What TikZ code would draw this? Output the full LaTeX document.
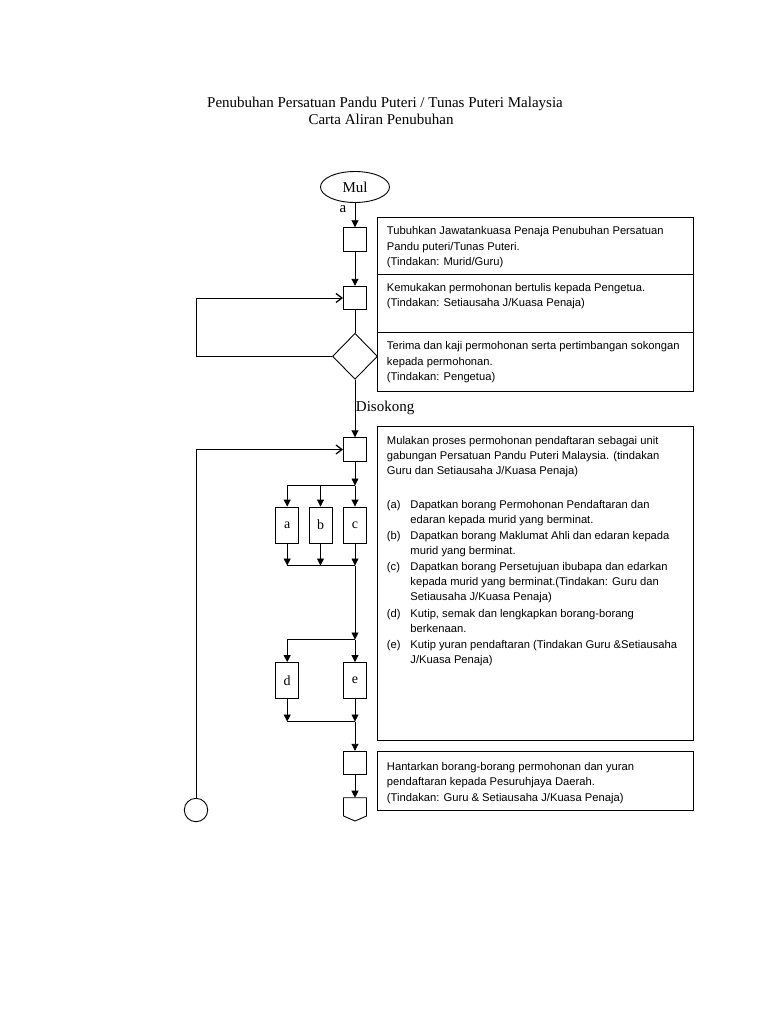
\documentclass[tikz,border=0pt]{standalone}
\usepackage{fontspec}
\setmainfont{Liberation Serif}
\setsansfont{Liberation Sans}
\usetikzlibrary{shapes.geometric,arrows.meta}
\begin{document}
\begin{tikzpicture}[x=1pt,y=-1pt,
  line width=0.9pt,
  sq/.style={draw, rectangle, inner sep=0pt, minimum width=23pt, minimum height=23.5pt},
  tall/.style={draw, rectangle, inner sep=0pt, minimum width=23pt, minimum height=36pt, font=\fontsize{14}{16}\selectfont},
  tbox/.style={draw, rectangle, inner sep=0pt, anchor=north west, minimum width=316pt},
  txt/.style={anchor=base west, inner sep=0pt, font=\fontsize{11.2}{13}\sffamily},
  serif/.style={inner sep=0pt, font=\fontsize{15}{17}\selectfont},
  arr/.style={-{Triangle[length=7pt,width=7pt]}},
  barb/.style={-{Straight Barb[length=6pt,width=9pt,line width=1.3pt]}},
]
\useasboundingbox (0,0) rectangle (768,1024);
\fill[white] (0,0) rectangle (768,1024);

% title
\node[serif, anchor=base] (title1) at (385,108) {Penubuhan Persatuan Pandu Puteri / Tunas Puteri Malaysia};
\node[serif, anchor=base] (title2) at (381,125) {Carta Aliran Penubuhan};

% text boxes
\node[tbox, minimum height=57pt] (tb1) at (377,217) {};
\node[tbox, minimum height=58pt] (tb2) at (377,274) {};
\node[tbox, minimum height=59pt] (tb3) at (377,332) {};
\node[tbox, minimum height=314.5pt] (tb4) at (377,425.5) {};
\node[tbox, minimum height=59pt] (tb5) at (377,751) {};

\node[txt] (t11) at (386.5,234.5) {Tubuhkan Jawatankuasa Penaja Penubuhan Persatuan};
\node[txt] (t12) at (386.5,250) {Pandu puteri/Tunas Puteri.};
\node[txt] (t13) at (386.5,265.5) {(Tindakan: Murid/Guru)};

\node[txt] (t21) at (386.5,291) {Kemukakan permohonan bertulis kepada Pengetua.};
\node[txt] (t22) at (386.5,306.5) {(Tindakan: Setiausaha J/Kuasa Penaja)};

\node[txt] (t31) at (386.5,349.5) {Terima dan kaji permohonan serta pertimbangan sokongan};
\node[txt] (t32) at (386.5,365) {kepada permohonan.};
\node[txt] (t33) at (386.5,380.5) {(Tindakan: Pengetua)};

\node[txt] (t41) at (386.5,444.5) {Mulakan proses permohonan pendaftaran sebagai unit};
\node[txt] (t42) at (386.5,459.5) {gabungan Persatuan Pandu Puteri Malaysia. (tindakan};
\node[txt] (t43) at (386.5,474.5) {Guru dan Setiausaha J/Kuasa Penaja)};
\node[txt] (la) at (386.5,508.5) {(a)};
\node[txt] (ta1) at (410,508.5) {Dapatkan borang Permohonan Pendaftaran dan};
\node[txt] (ta2) at (410,523.5) {edaran kepada murid yang berminat.};
\node[txt] (lb) at (386.5,539.5) {(b)};
\node[txt] (tb1a) at (410,539.5) {Dapatkan borang Maklumat Ahli dan edaran kepada};
\node[txt] (tb2a) at (410,554.5) {murid yang berminat.};
\node[txt] (lc) at (386.5,570.5) {(c)};
\node[txt] (tc1) at (410,570.5) {Dapatkan borang Persetujuan ibubapa dan edarkan};
\node[txt] (tc2) at (410,585.5) {kepada murid yang berminat.(Tindakan: Guru dan};
\node[txt] (tc3) at (410,600.5) {Setiausaha J/Kuasa Penaja)};
\node[txt] (ld) at (386.5,617) {(d)};
\node[txt] (td1) at (410,617) {Kutip, semak dan lengkapkan borang-borang};
\node[txt] (td2) at (410,632) {berkenaan.};
\node[txt] (le) at (386.5,648) {(e)};
\node[txt] (te1) at (410,648) {Kutip yuran pendaftaran (Tindakan Guru \&Setiausaha};
\node[txt] (te2) at (410,663) {J/Kuasa Penaja)};

\node[txt] (t51) at (386.5,770) {Hantarkan borang-borang permohonan dan yuran};
\node[txt] (t52) at (386.5,785.5) {pendaftaran kepada Pesuruhjaya Daerah.};
\node[txt] (t53) at (386.5,801) {(Tindakan: Guru \& Setiausaha J/Kuasa Penaja)};

% flow shapes
\node[draw, ellipse, inner sep=0pt, minimum width=69pt, minimum height=31pt, font=\fontsize{15}{17}\selectfont] (start) at (355,187) {Mul};
\node[serif] (starta) at (343,209) {a};
\node[sq] (b1) at (355,239.5) {};
\node[sq] (b2) at (355,298) {};
\node[draw, diamond, inner sep=0pt, minimum width=45pt, minimum height=46pt] (dia) at (355,356.3) {};
\node[serif, anchor=base west] (dis) at (355.5,411) {Disokong};
\node[sq] (b4) at (355,449.5) {};
\node[tall] (ba) at (287.2,525) {a};
\node[tall] (bb) at (320.5,525) {b};
\node[tall] (bc) at (355,525) {c};
\node[tall] (bd) at (287.2,680.5) {d};
\node[tall] (be) at (355,680.5) {e};
\node[sq] (b6) at (355,763) {};
\node[draw, circle, inner sep=0pt, minimum size=23.4pt] (conn) at (196,810) {};
\draw (343.5,797.7) -- (366.5,797.7) -- (366.5,816) -- (355,821) -- (343.5,816) -- cycle;
\coordinate (pent) at (355,797.7);

% junction coordinates
\coordinate (l1a) at (196,356.3);
\coordinate (l1b) at (196,298);
\coordinate (l2) at (196,449.5);
\coordinate (j1) at (355,485.5);
\coordinate (j1a) at (287.2,485.5);
\coordinate (j1b) at (320.5,485.5);
\coordinate (m1) at (355,565.5);
\coordinate (m1a) at (287.2,565.5);
\coordinate (m1b) at (320.5,565.5);
\coordinate (j2) at (355,639.5);
\coordinate (j2d) at (287.2,639.5);
\coordinate (m2) at (355,721.5);
\coordinate (m2d) at (287.2,721.5);

% connectors
\draw[arr] (start) -- (b1);
\draw[arr] (b1) -- (b2);
\draw (b2) -- (dia);
\draw[barb] (dia.west) -- (l1a) -- (l1b) -- (b2.west);
\draw[arr] (dia) -- (b4);
\draw[barb] (conn) -- (l2) -- (b4.west);
\draw[arr] (b4) -- (j1);
\draw (j1a) -- (j1);
\draw[arr] (j1a) -- (ba);
\draw[arr] (j1b) -- (bb);
\draw[arr] (j1) -- (bc);
\draw[arr] (ba) -- (m1a);
\draw[arr] (bb) -- (m1b);
\draw[arr] (bc) -- (m1);
\draw (m1a) -- (m1);
\draw[arr] (m1) -- (j2);
\draw (j2d) -- (j2);
\draw[arr] (j2d) -- (bd);
\draw[arr] (j2) -- (be);
\draw[arr] (bd) -- (m2d);
\draw[arr] (be) -- (m2);
\draw (m2d) -- (m2);
\draw[arr] (m2) -- (b6);
\draw[arr] (b6) -- (pent);
\end{tikzpicture}
\end{document}
